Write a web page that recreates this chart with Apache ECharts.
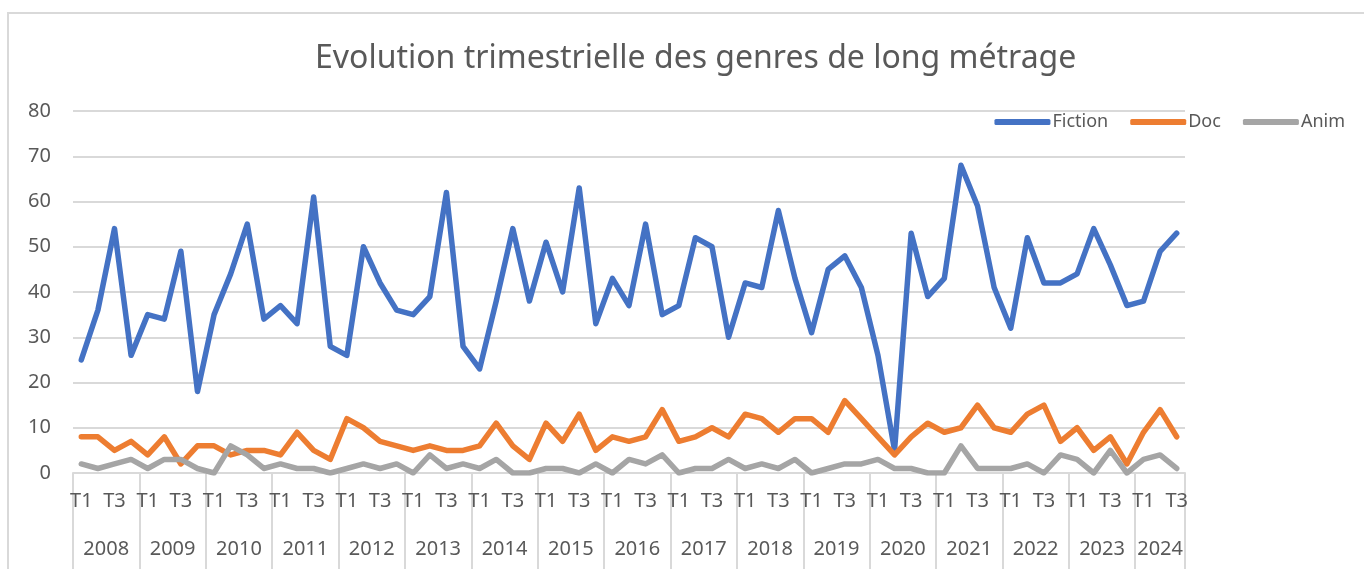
<!DOCTYPE html>
<html>
<head>
<meta charset="utf-8">
<script src="https://cdn.jsdelivr.net/npm/echarts@6/dist/echarts.min.js"></script>
<style>
  * { margin: 0; padding: 0; }
  body { background: #fff; }
</style>
</head>
<body>
<!-- conteneur du graphique -->
<div id="main" style="width: 1364px; height: 569px"></div>
<script>
// années et trimestres (2024 : seulement 3 trimestres)
var years = [2008, 2009, 2010, 2011, 2012, 2013, 2014, 2015, 2016, 2017, 2018, 2019, 2020, 2021, 2022, 2023, 2024];
var quarters = ["T1", "T2", "T3", "T4"];
var lastYearQuarters = 3;

var fiction = [25, 36, 54, 26, 35, 34, 49, 18, 35, 44, 55, 34, 37, 33, 61, 28, 26, 50, 42,
  36, 35, 39, 62, 28, 23, 38, 54, 38, 51, 40, 63, 33, 43, 37, 55, 35, 37, 52, 50,
  30, 42, 41, 58, 43, 31, 45, 48, 41, 26, 5, 53, 39, 43, 68, 59, 41, 32, 52,
  42, 42, 44, 54, 46, 37, 38, 49, 53];
var doc = [8, 8, 5, 7, 4, 8, 2, 6, 6, 4, 5, 5, 4, 9, 5, 3, 12, 10, 7,
  6, 5, 6, 5, 5, 6, 11, 6, 3, 11, 7, 13, 5, 8, 7, 8, 14, 7, 8, 10,
  8, 13, 12, 9, 12, 12, 9, 16, 12, 8, 4, 8, 11, 9, 10, 15, 10, 9, 13,
  15, 7, 10, 5, 8, 2, 9, 14, 8];
var anim = [2, 1, 2, 3, 1, 3, 3, 1, 0, 6, 4, 1, 2, 1, 1, 0, 1, 2, 1,
  2, 0, 4, 1, 2, 1, 3, 0, 0, 1, 1, 0, 2, 0, 3, 2, 4, 0, 1, 1,
  3, 1, 2, 1, 3, 0, 1, 2, 2, 3, 1, 1, 0, 0, 6, 1, 1, 1, 2,
  0, 4, 3, 0, 5, 0, 3, 4, 1];

// construire les catégories trimestrielles
var categories = [];
for (var y = 0; y < years.length; y++) {
  var n = y === years.length - 1 ? lastYearQuarters : 4;
  for (var q = 0; q < n; q++) {
    categories.push(quarters[q]);
  }
}
var total = categories.length;

var labelColor = "#595959";
var gridColor = "#d9d9d9";
var font = "Noto Sans";

var chart = echarts.init(document.getElementById("main"));
chart.setOption({
  animation: false,
  textStyle: { fontFamily: font },
  color: ["#4472c4", "#ed7d31", "#a5a5a5"],
  title: {
    text: "Evolution trimestrielle des genres de long métrage",
    left: 310,
    top: 38,
    textStyle: { fontFamily: font, fontSize: 32, fontWeight: "normal", color: labelColor },
  },
  legend: {
    right: 14,
    top: 108,
    icon: "roundRect",
    itemWidth: 56,
    itemHeight: 6,
    itemGap: 22,
    textStyle: { fontFamily: font, fontSize: 18, color: labelColor, padding: [0, 0, 0, -3] },
    data: ["Fiction", "Doc", "Anim"],
  },
  //cadre du graphique
  graphic: [
    {
      type: "rect",
      shape: { x: 8, y: 13, width: 1400, height: 600 },
      style: { fill: "none", stroke: gridColor, lineWidth: 2 },
      silent: true,
    },
  ],
  grid: { left: 73, right: 179, top: 111, bottom: 96, containLabel: false },
  xAxis: [
    {
      type: "category",
      data: categories,
      boundaryGap: true,
      axisLine: { lineStyle: { color: gridColor, width: 2 } },
      axisTick: { show: false },
      axisLabel: { interval: 1, color: labelColor, fontSize: 20, margin: 18 },
    },
    {
      // séparateurs des années
      type: "value",
      min: 0,
      max: total,
      interval: 4,
      position: "bottom",
      axisLine: { show: false },
      axisTick: { show: true, length: 96, lineStyle: { color: gridColor, width: 2 } },
      axisLabel: { show: false },
      splitLine: { show: false },
    },
    {
      // étiquettes des années
      type: "value",
      min: 0,
      max: total,
      interval: 0.5,
      position: "bottom",
      axisLine: { show: false },
      axisTick: { show: false },
      splitLine: { show: false },
      axisLabel: {
        color: labelColor,
        fontSize: 20,
        margin: 66,
        showMinLabel: true,
        showMaxLabel: true,
        formatter: function (v) {
          for (var i = 0; i < years.length; i++) {
            var start = i * 4;
            var end = i === years.length - 1 ? total : start + 4;
            if (v === (start + end) / 2) return String(years[i]);
          }
          return "";
        },
      },
    },
  ],
  yAxis: {
    type: "value",
    min: 0,
    max: 80,
    interval: 10,
    axisLine: { show: false },
    axisTick: { show: false },
    axisLabel: { color: labelColor, fontSize: 20, margin: 22 },
    splitLine: { lineStyle: { color: gridColor, width: 2 } },
  },
  series: [
    { name: "Fiction", type: "line", data: fiction, showSymbol: false, lineStyle: { width: 5.5, cap: "round", join: "round" } },
    { name: "Doc", type: "line", data: doc, showSymbol: false, lineStyle: { width: 5.5, cap: "round", join: "round" } },
    { name: "Anim", type: "line", data: anim, showSymbol: false, lineStyle: { width: 5.5, cap: "round", join: "round" } },
  ],
});
</script>
</body>
</html>
